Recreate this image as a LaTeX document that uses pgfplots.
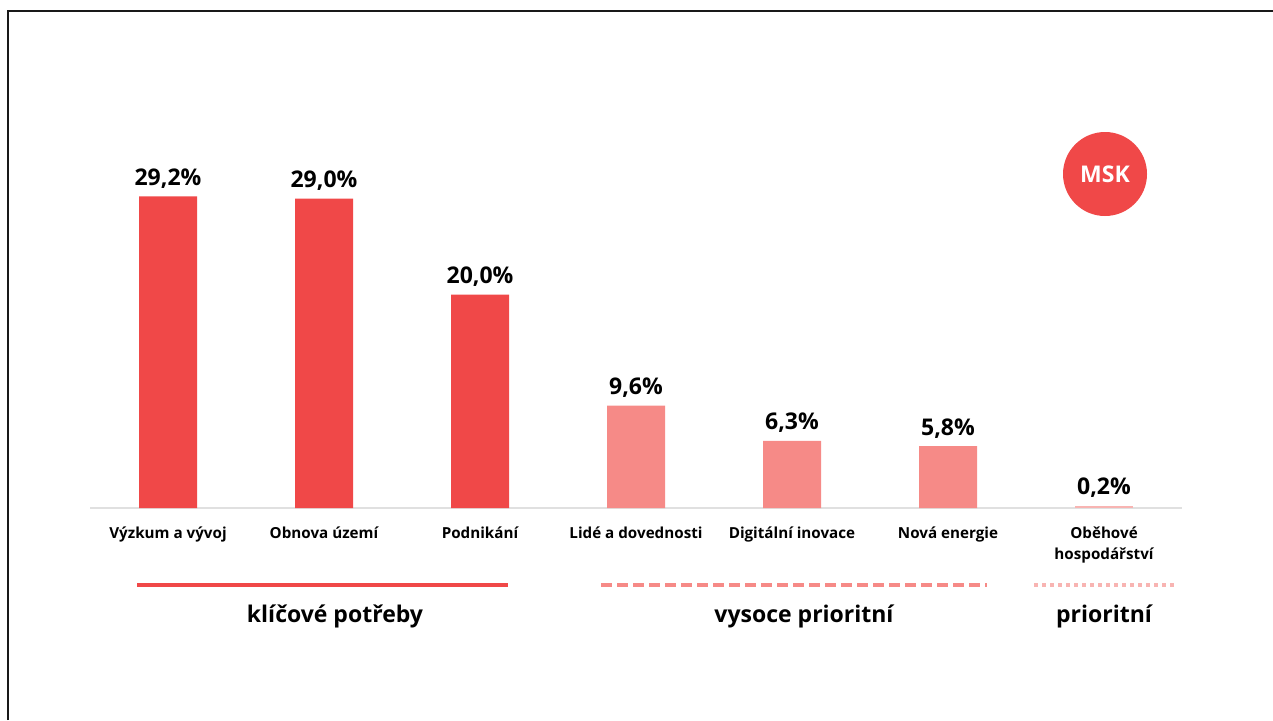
\documentclass[border=0pt]{standalone}
\usepackage{fontspec}
\setmainfont{Open Sans}
\usepackage{pgfplots}
\pgfplotsset{compat=1.18}
\definecolor{mskred}{HTML}{F04848}
\definecolor{msklight}{HTML}{F68A87}
\definecolor{mskpale}{HTML}{F8B4B2}

\begin{document}
\begin{tikzpicture}[x=0.5pt,y=0.5pt]
\useasboundingbox (0,0) rectangle (1273,720);
% frame, cut off at right and bottom
\draw[line width=1.1pt, black!90] (8,0) -- (8,709) -- (1273,709);

\begin{axis}[
    at={(84pt,106pt)}, anchor=origin,
    scale only axis, width=546pt, height=186.7pt,
    xmin=-0.5, xmax=6.5, ymin=0, ymax=35,
    hide y axis,
    axis x line*=bottom,
    x axis line style={-, draw=black!12, line width=0.6pt},
    xtick={0,...,6}, major tick length=0pt,
    xticklabels={Výzkum a vývoj, Obnova území, Podnikání, Lidé a dovednosti,
        Digitální inovace, Nová energie, {Oběhové\\hospodářství}},
    xticklabel style={font=\bfseries\fontsize{7.6}{10.2}\selectfont, align=center, yshift=-6pt},
    ybar, bar width=29pt,
    every axis plot/.append style={bar shift=0pt, draw=none},
    nodes near coords={\pgfmathprintnumber[fixed,fixed zerofill,precision=1,use comma,assume math mode=true]{\pgfplotspointmeta}\%},
    every node near coord/.append style={font=\bfseries\fontsize{11.5}{13}\selectfont, text=black, yshift=0.5pt},
    clip=false,
]
\addplot[fill=mskred] coordinates {(0,29.2) (1,29.0) (2,20.0)};
\addplot[fill=msklight] coordinates {(3,9.6) (4,6.3) (5,5.8)};
\addplot[fill=mskpale] coordinates {(6,0.2)};
\end{axis}

% group markers
\draw[mskred, line width=2pt] (137,135) -- (508,135);
\draw[msklight, line width=2pt, dash pattern=on 5.5pt off 2.5pt] (601,135) -- (987,135);
\draw[mskpale, line width=2pt, dash pattern=on 2pt off 2pt] (1034,135) -- (1175,135);
\node[font=\bfseries\fontsize{11.5}{13.5}\selectfont] at (335,104) {klíčové potřeby};
\node[font=\bfseries\fontsize{11.5}{13.5}\selectfont] at (804,104) {vysoce prioritní};
\node[font=\bfseries\fontsize{11.5}{13.5}\selectfont] at (1104,104) {prioritní};

% region badge
\fill[mskred] (1105,546) circle[radius=21pt];
\node[font=\bfseries\fontsize{11.5}{13}\selectfont, text=white] at (1105,546) {MSK};
\end{tikzpicture}
\end{document}
